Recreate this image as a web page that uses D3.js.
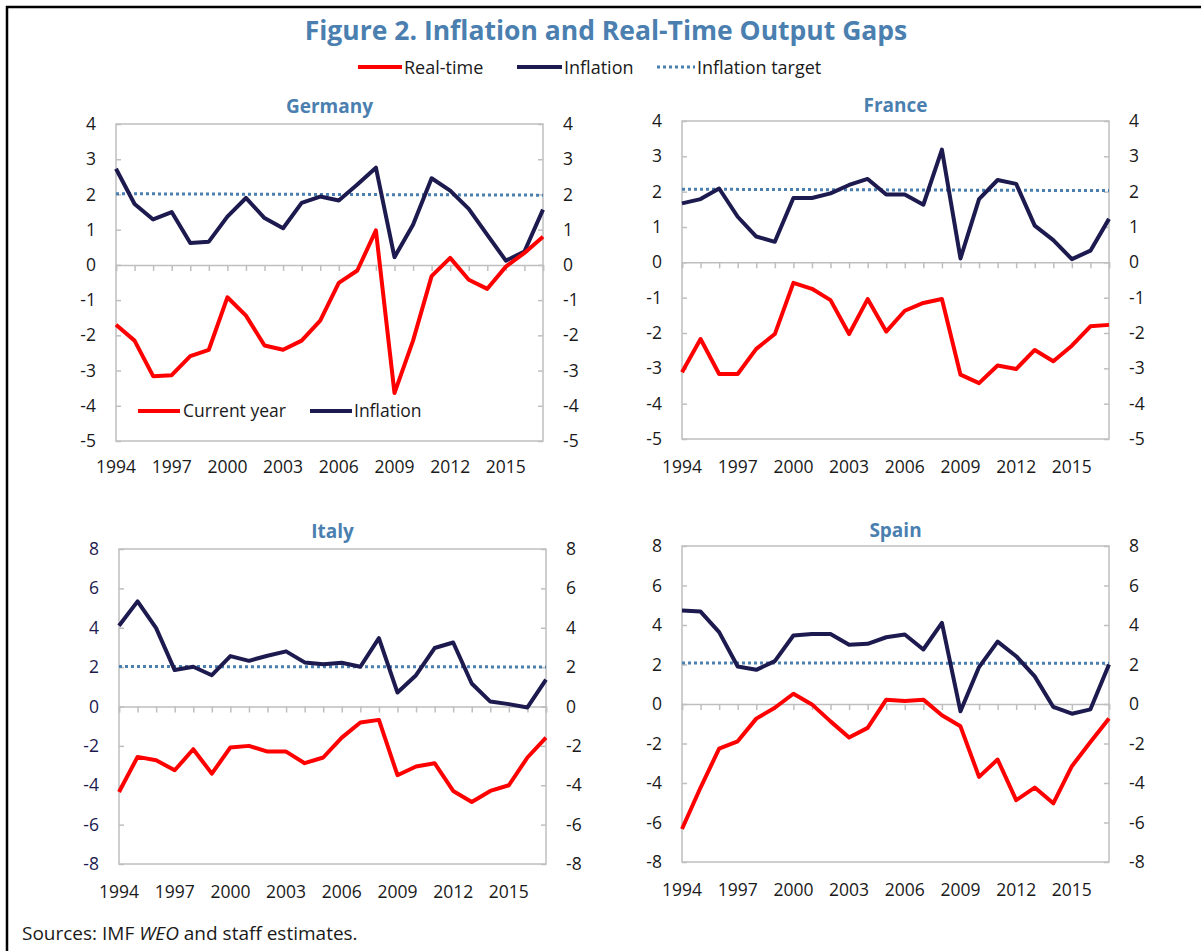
<!DOCTYPE html>
<html>
<head>
<meta charset="utf-8">
<script src="https://cdn.jsdelivr.net/npm/d3@7"></script>
<style>
  html, body { margin: 0; padding: 0; background: #fff; }
  svg { display: block; font-family: "Open Sans", "Noto Sans", sans-serif; }
</style>
</head>
<body>
<svg id="chart" width="1201" height="951"></svg>
<script>
// ---------------- DATA ----------------
const years = d3.range(1994, 2018);
const xTickYears = [1994, 1997, 2000, 2003, 2006, 2009, 2012, 2015];

const germanyInflation = [2.73, 1.73, 1.29, 1.50, 0.62, 0.66, 1.37, 1.90, 1.33, 1.04, 1.76, 1.94, 1.83, 2.28, 2.76, 0.22, 1.14, 2.46, 2.11, 1.59, 0.85, 0.12, 0.38, 1.57];
const germanyRealTime  = [-1.70, -2.15, -3.16, -3.13, -2.59, -2.41, -0.92, -1.44, -2.29, -2.41, -2.15, -1.58, -0.51, -0.16, 0.98, -3.64, -2.15, -0.32, 0.20, -0.42, -0.68, -0.05, 0.34, 0.80];
const germanyTarget    = [2.02, 1.98];

const franceInflation = [1.67, 1.79, 2.09, 1.29, 0.73, 0.58, 1.82, 1.82, 1.95, 2.19, 2.36, 1.92, 1.92, 1.63, 3.19, 0.11, 1.79, 2.33, 2.22, 1.04, 0.63, 0.09, 0.33, 1.23];
const franceRealTime  = [-3.11, -2.17, -3.16, -3.16, -2.45, -2.03, -0.58, -0.75, -1.07, -2.03, -1.04, -1.96, -1.37, -1.15, -1.04, -3.18, -3.42, -2.92, -3.02, -2.48, -2.80, -2.36, -1.81, -1.77];
const franceTarget    = [2.07, 2.03];

const italyInflation = [4.10, 5.34, 3.98, 1.85, 2.02, 1.59, 2.56, 2.32, 2.58, 2.80, 2.24, 2.15, 2.22, 2.02, 3.47, 0.71, 1.59, 2.97, 3.25, 1.17, 0.25, 0.12, -0.05, 1.36];
const italyRealTime  = [-4.34, -2.56, -2.73, -3.24, -2.17, -3.41, -2.08, -2.00, -2.29, -2.29, -2.88, -2.59, -1.58, -0.81, -0.68, -3.49, -3.05, -2.88, -4.29, -4.85, -4.29, -4.00, -2.59, -1.58];
const italyTarget    = [2.03, 2.01];

const spainInflation = [4.73, 4.68, 3.64, 1.90, 1.73, 2.17, 3.47, 3.54, 3.54, 3.00, 3.05, 3.38, 3.52, 2.76, 4.11, -0.37, 1.87, 3.16, 2.42, 1.40, -0.15, -0.49, -0.27, 2.00];
const spainRealTime  = [-6.33, -4.23, -2.26, -1.89, -0.74, -0.19, 0.52, -0.02, -0.88, -1.70, -1.21, 0.22, 0.15, 0.22, -0.57, -1.13, -3.69, -2.81, -4.87, -4.23, -5.03, -3.15, -1.92, -0.74];
const spainTarget    = [2.08, 2.06];

const smallTicks = [-5, -4, -3, -2, -1, 0, 1, 2, 3, 4];
const largeTicks = [-8, -6, -4, -2, 0, 2, 4, 6, 8];

const titleText = "Figure 2. Inflation and Real-Time Output Gaps";
const legendLabels = ["Real-time", "Inflation", "Inflation target"];
const innerLegendLabels = ["Current year", "Inflation"];
const panelNames = ["Germany", "France", "Italy", "Spain"];

// ---------------- STYLE ----------------
const RED = "#ff0000";
const NAVY = "#1c1a4f";
const BLUE = "#4a7fb0";
const AXIS = "#bfbfbf";
const TXT = "#1a1a1a";

const svg = d3.select("#chart");

// frame
svg.append("line").attr("x1", 6).attr("x2", 1201).attr("y1", 7).attr("y2", 7)
  .attr("stroke", "#000").attr("stroke-width", 2.5);
svg.append("line").attr("x1", 7).attr("x2", 7).attr("y1", 6).attr("y2", 951)
  .attr("stroke", "#000").attr("stroke-width", 2.5);

// title
svg.append("text").attr("x", 606).attr("y", 40).attr("text-anchor", "middle")
  .attr("font-size", 26.5).attr("font-weight", "bold").attr("fill", BLUE)
  .text(titleText);

// top legend
const topLegend = [
  {x1: 358, x2: 402, tx: 404, color: RED, dash: null, label: legendLabels[0]},
  {x1: 517, x2: 562, tx: 564, color: NAVY, dash: null, label: legendLabels[1]},
  {x1: 657, x2: 695, tx: 697, color: BLUE, dash: "3,3", label: legendLabels[2]}
];
topLegend.forEach(d => {
  svg.append("line").attr("x1", d.x1).attr("x2", d.x2).attr("y1", 67).attr("y2", 67)
    .attr("stroke", d.color).attr("stroke-width", d.dash ? 3 : 4)
    .attr("stroke-dasharray", d.dash);
  svg.append("text").attr("x", d.tx).attr("y", 73.5).attr("font-size", 18)
    .attr("fill", TXT).text(d.label);
});

const panels = [
  {name: panelNames[0], infl: germanyInflation, rt: germanyRealTime, target: germanyTarget,
   x0: 116, x1: 543, y0: 124, y1: 441, dom: [-5, 4], ticks: smallTicks,
   titleY: 113, xlabY: 473, leftColor: TXT, rightColor: TXT, innerLegend: true},
  {name: panelNames[1], infl: franceInflation, rt: franceRealTime, target: franceTarget,
   x0: 682, x1: 1109, y0: 121, y1: 439, dom: [-5, 4], ticks: smallTicks,
   titleY: 112, xlabY: 473, leftColor: TXT, rightColor: TXT},
  {name: panelNames[2], infl: italyInflation, rt: italyRealTime, target: italyTarget,
   x0: 119, x1: 546, y0: 549, y1: 864, dom: [-8, 8], ticks: largeTicks,
   titleY: 538, xlabY: 898, leftColor: NAVY, rightColor: TXT},
  {name: panelNames[3], infl: spainInflation, rt: spainRealTime, target: spainTarget,
   x0: 682, x1: 1109, y0: 546, y1: 862, dom: [-8, 8], ticks: largeTicks,
   titleY: 537, xlabY: 896, leftColor: TXT, rightColor: TXT}
];

panels.forEach(p => {
  const x = d3.scaleLinear().domain([1994, 2017]).range([p.x0, p.x1]);
  const y = d3.scaleLinear().domain(p.dom).range([p.y1, p.y0]);
  const g = svg.append("g");

  // title
  g.append("text").attr("x", (p.x0 + p.x1) / 2).attr("y", p.titleY)
    .attr("text-anchor", "middle").attr("font-size", 19).attr("font-weight", "bold")
    .attr("fill", BLUE).text(p.name);

  // plot border
  g.append("rect").attr("x", p.x0).attr("y", p.y0)
    .attr("width", p.x1 - p.x0).attr("height", p.y1 - p.y0)
    .attr("fill", "none").attr("stroke", AXIS).attr("stroke-width", 1.5);

  // left axis
  const la = d3.axisLeft(y).tickValues(p.ticks).tickSize(-5).tickPadding(20).tickFormat(d3.format("d"));
  const lg = g.append("g").attr("transform", `translate(${p.x0},0)`).call(la);
  lg.select(".domain").remove();
  lg.selectAll(".tick line").attr("stroke", AXIS).attr("stroke-width", 1.5);
  lg.selectAll(".tick text").attr("font-size", 17.5).attr("fill", p.leftColor)
    .attr("font-family", "'Open Sans', sans-serif").text(d => d < 0 ? "-" + Math.abs(d) : d);

  // right axis
  const ra = d3.axisRight(y).tickValues(p.ticks).tickSize(-5).tickPadding(20).tickFormat(d3.format("d"));
  const rg = g.append("g").attr("transform", `translate(${p.x1},0)`).call(ra);
  rg.select(".domain").remove();
  rg.selectAll(".tick line").attr("stroke", AXIS).attr("stroke-width", 1.5);
  rg.selectAll(".tick text").attr("font-size", 17.5).attr("fill", p.rightColor)
    .attr("font-family", "'Open Sans', sans-serif").text(d => d < 0 ? "-" + Math.abs(d) : d);

  // zero axis with year ticks
  const za = d3.axisBottom(x).tickValues(years).tickSize(6).tickFormat("");
  const zg = g.append("g").attr("transform", `translate(0,${y(0)})`).call(za);
  zg.select(".domain").attr("stroke", AXIS).attr("stroke-width", 1.5);
  zg.selectAll(".tick line").attr("stroke", AXIS).attr("stroke-width", 1.5);

  // x labels
  g.selectAll(".xlab").data(xTickYears).join("text")
    .attr("x", d => x(d)).attr("y", p.xlabY).attr("text-anchor", "middle")
    .attr("font-size", 17.5).attr("fill", TXT).text(d => d);

  // target
  const tline = d3.line().x(d => x(d[0])).y(d => y(d[1]));
  g.append("path").attr("d", tline([[1994, p.target[0]], [2017, p.target[1]]]))
    .attr("fill", "none").attr("stroke", BLUE).attr("stroke-width", 3)
    .attr("stroke-dasharray", "3,3");

  const line = d3.line().x((d, i) => x(years[i])).y(d => y(d));
  g.append("path").attr("d", line(p.infl)).attr("fill", "none")
    .attr("stroke", NAVY).attr("stroke-width", 4).attr("stroke-linejoin", "round");
  g.append("path").attr("d", line(p.rt)).attr("fill", "none")
    .attr("stroke", RED).attr("stroke-width", 4).attr("stroke-linejoin", "round");

  if (p.innerLegend) {
    const il = [
      {x1: 138, x2: 180, tx: 183, color: RED, label: innerLegendLabels[0]},
      {x1: 310, x2: 352, tx: 354, color: NAVY, label: innerLegendLabels[1]}
    ];
    il.forEach(d => {
      g.append("line").attr("x1", d.x1).attr("x2", d.x2).attr("y1", 411).attr("y2", 411)
        .attr("stroke", d.color).attr("stroke-width", 4);
      g.append("text").attr("x", d.tx).attr("y", 417).attr("font-size", 17.5)
        .attr("fill", TXT).text(d.label);
    });
  }
});

// source
const src = svg.append("text").attr("x", 22).attr("y", 940).attr("font-size", 19).attr("fill", TXT);
src.append("tspan").text("Sources: IMF ");
src.append("tspan").attr("font-style", "italic").text("WEO");
src.append("tspan").text(" and staff estimates.");
</script>
</body>
</html>
